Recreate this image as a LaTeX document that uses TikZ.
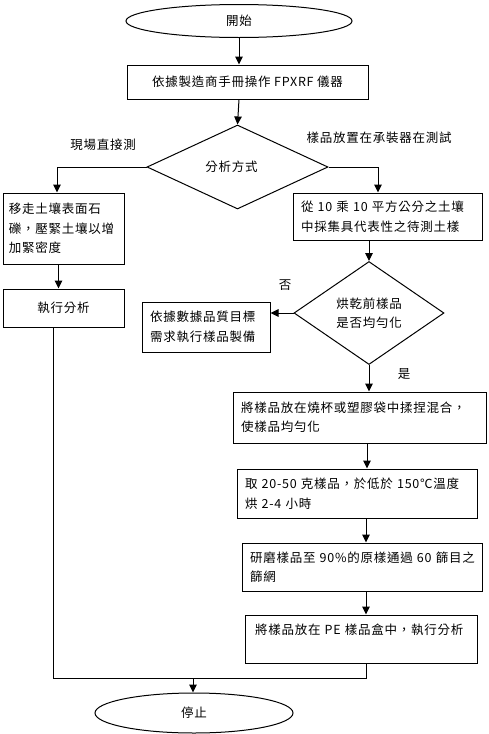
\documentclass[tikz,border=0pt]{standalone}
\usepackage{fontspec}
\setmainfont{Noto Sans CJK TC}[LetterSpace=6]
\usetikzlibrary{shapes.geometric,arrows.meta}
\begin{document}
\begin{tikzpicture}[x=1pt,y=-1pt,
  every node/.style={font=\fontsize{12.5}{19.5}\selectfont},
  line/.style={draw=black,line width=1pt},
  arr/.style={line,-{Triangle[length=8pt,width=7.5pt]}},
  box/.style={line,rectangle,inner xsep=8pt,inner ysep=0pt,align=left},
  ctrbox/.style={line,rectangle,inner sep=0pt,align=center},
  term/.style={line,ellipse,inner sep=0pt},
  dec/.style={line,diamond,inner sep=0pt,align=center},
  lbl/.style={inner sep=0pt}]
\useasboundingbox (0,0) rectangle (488,734);

\node[term,minimum width=226pt,minimum height=33pt] (start) at (239,21) {開始};
\node[ctrbox,minimum width=241pt,minimum height=34pt] (box1) at (247.5,82) {依據製造商手冊操作~FPXRF~儀器};
\node[dec,minimum width=181pt,minimum height=84pt] (d1) at (237.5,167) {分析方式\hspace*{12pt}};

\node[box,inner xsep=6pt,text width=109pt,minimum height=71pt] (lbox) at (63.5,228.5) {移走土壤表面石\\礫，壓緊土壤以增\\加緊密度};
\node[ctrbox,minimum width=121pt,minimum height=38pt] (exec) at (63.5,308) {執行分析};

\node[box,text width=173pt,minimum height=47pt] (rbox) at (387.5,216.5) {從~10~乘~10~平方公分之土壤\\中採集具代表性之待測土樣};
\node[dec,minimum width=150pt,minimum height=103pt] (d2) at (369,313) {烘乾前樣品\\是否均勻化};
\node[box,text width=112pt,minimum height=50pt] (prep) at (206,327) {依據數據品質目標\\需求執行樣品製備};

\node[box,text width=237pt,minimum height=51pt] (boxA) at (359.5,417.5) {將樣品放在燒杯或塑膠袋中揉捏混合，\\使樣品均勻化};
\node[box,text width=224pt,minimum height=49pt] (boxB) at (357,493.5) {取~20-50~克樣品，於低於~150℃溫度\\烘~2-4~小時};
\node[box,text width=224pt,minimum height=48pt] (boxC) at (362,567) {研磨樣品至~90\%的原樣通過~60~篩目之\\篩網};
\node[box,inner xsep=10pt,text width=212pt,minimum height=48pt] (boxD) at (361,639) {將樣品放在~PE~樣品盒中，執行分析\\\mbox{}};

\node[term,minimum width=198pt,minimum height=40pt] (end) at (194,713) {停止};

\node[lbl] (lab1) at (103,145) {現場直接測};
\node[lbl] (lab2) at (379,138) {樣品放置在承裝器在測試};
\node[lbl] (lab3) at (285,285) {否};
\node[lbl] (lab4) at (404,374) {是};

\coordinate (j) at (193,678);

\draw[arr] (start.south) -- (start.south |- box1.north);
\draw[arr] (start.south |- box1.south) -- (d1.north);
\draw[arr] (d1.west) -| ([xshift=-6.5pt]lbox.north);
\draw[arr] (d1.east) -| ([xshift=-9.5pt]rbox.north);
\draw[arr] ([xshift=-5pt]lbox.south) -- ([xshift=-5pt]exec.north);
\draw[arr] (d2.north |- rbox.south) -- (d2.north);
\draw[arr] (d2.west) -- (d2.west -| prep.east);
\draw[arr] (d2.south) -- (d2.south |- boxA.north);
\draw[arr] ([xshift=-2pt]d2.south |- boxA.south) -- ([xshift=-2pt]d2.south |- boxB.north);
\draw[arr] ([xshift=-3pt]d2.south |- boxB.south) -- ([xshift=-3pt]d2.south |- boxC.north);
\draw[arr] ([xshift=-3pt]d2.south |- boxC.south) -- ([xshift=-3pt]d2.south |- boxD.north);
\draw[line] ([xshift=-3pt]d2.south |- boxD.south) |- (j);
\draw[line] ([xshift=-10.5pt]exec.south) |- (j);
\draw[arr] (j) -- (j |- end.north);
\end{tikzpicture}
\end{document}
